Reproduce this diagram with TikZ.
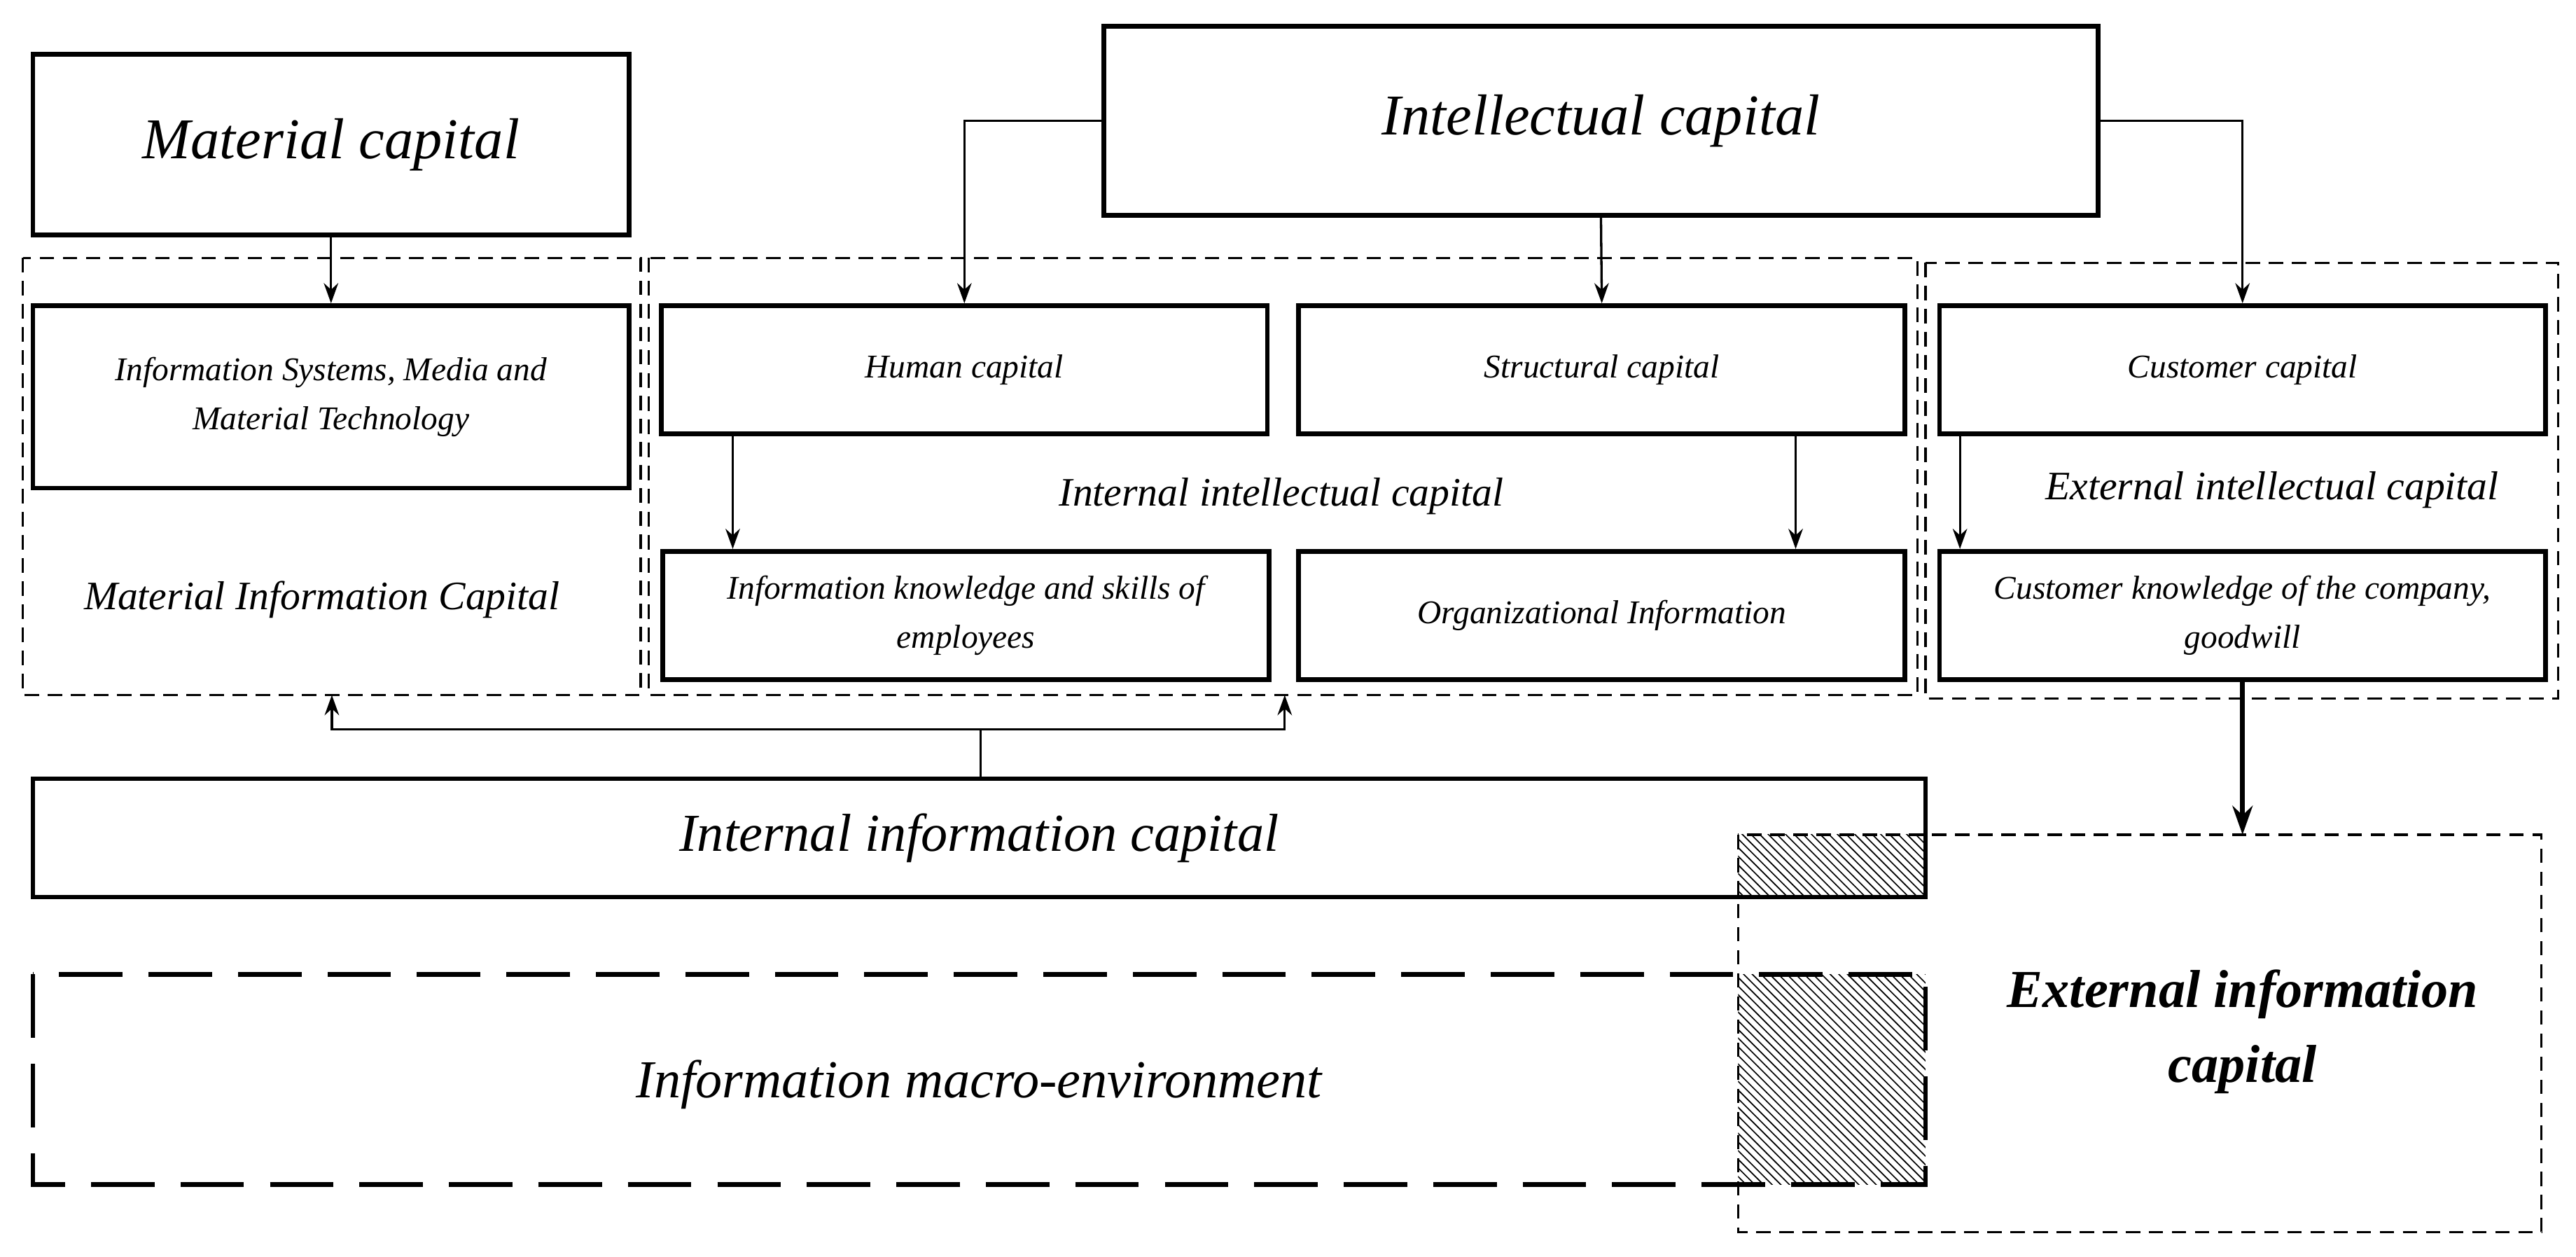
\documentclass[tikz,border=0pt]{standalone}
\usepackage{fontspec}
\setmainfont{Liberation Serif}
\usetikzlibrary{patterns,arrows.meta}
\begin{document}
\begin{tikzpicture}[x=0.02cm,y=-0.02cm,
 box/.style={draw,line width=1.6pt,align=center,font=\itshape},
 dbox/.style={draw,dash pattern=on 5pt off 3pt,line width=0.8pt},
 arr/.style={-{Stealth[length=7pt,width=5pt]},line width=0.8pt},
 lab/.style={font=\itshape\fontsize{14}{16}\selectfont}]
\useasboundingbox (0,0) rectangle (1568,765);
% dashed groups
\draw[dbox] (14,157) rectangle (390,423);
\draw[dbox] (395,157) rectangle (1167,423);
\draw[dbox] (1172,160) rectangle (1557,425);
\node[lab] (mic) at (196,365) {Material Information Capital};
\node[lab] (iic) at (780,302) {Internal intellectual capital};
\node[lab] (eic) at (1383,298) {External intellectual capital};
% top boxes
\node[box,minimum width=363*0.02cm,minimum height=110*0.02cm,font=\itshape\fontsize{20}{22}\selectfont] (mat) at (201.5,88) {Material capital};
\node[box,minimum width=605*0.02cm,minimum height=115*0.02cm,font=\itshape\fontsize{20}{22}\selectfont] (int) at (974.5,73.5) {Intellectual capital};
% second row
\tikzset{sb/.style={box,minimum width=369*0.02cm,minimum height=78*0.02cm,font=\itshape\fontsize{11.5}{17}\selectfont}}
\node[sb,minimum width=363*0.02cm,minimum height=111*0.02cm] (ist) at (201.5,241.5) {Information Systems, Media and\\Material Technology};
\node[sb] (hum) at (587,225) {Human capital};
\node[sb] (str) at (975,225) {Structural capital};
\node[sb] (cus) at (1365,225) {Customer capital};
\node[sb] (ikn) at (588,374.5) {Information knowledge and skills of\\employees};
\node[sb] (org) at (975,374.5) {Organizational Information};
\node[sb] (ckn) at (1365,374.5) {Customer knowledge of the company,\\goodwill};
% bottom
\node[box,minimum width=1152*0.02cm,minimum height=72*0.02cm,font=\itshape\fontsize{18.5}{22}\selectfont] (iin) at (596,510) {Internal information capital};
\draw[dbox] (1058,508) rectangle (1547,750);
\node[font=\bfseries\itshape\fontsize{18.5}{26}\selectfont,align=center] (ext) at (1365,628) {External information\\capital};
\draw[pattern=north west lines,draw=none] (1058,508) rectangle (1172,546);
\draw[pattern=north west lines,draw=none] (1058,593) rectangle (1172,721);
\draw[line width=1.6pt,dash pattern=on 22pt off 9pt] (20,593) rectangle (1172,721);
\node[font=\itshape\fontsize{18.5}{22}\selectfont] (mac) at (596,660) {Information macro-environment};
% arrows
\draw[arr] (mat.south) -- (ist.north);
\draw[arr] (int.west) -| (hum.north);
\draw[arr] (int.south) -- (str.north);
\draw[arr] (int.east) -| (cus.north);
\draw[arr] (hum.south -| 446,0) -- (ikn.north -| 446,0);
\draw[arr] (str.south -| 1093,0) -- (org.north -| 1093,0);
\draw[arr] (cus.south -| 1193,0) -- (ckn.north -| 1193,0);
\draw[-{Stealth[length=10pt,width=7pt]},line width=1.6pt] (ckn.south) -- (1365,508);
\coordinate (j) at (597,444);
\draw[line width=0.8pt] (iin.north -| j) -- (j);
\draw[arr] (j) -- (202,444) -- (202,423);
\draw[arr] (j) -- (782,444) -- (782,423);
\end{tikzpicture}
\end{document}
